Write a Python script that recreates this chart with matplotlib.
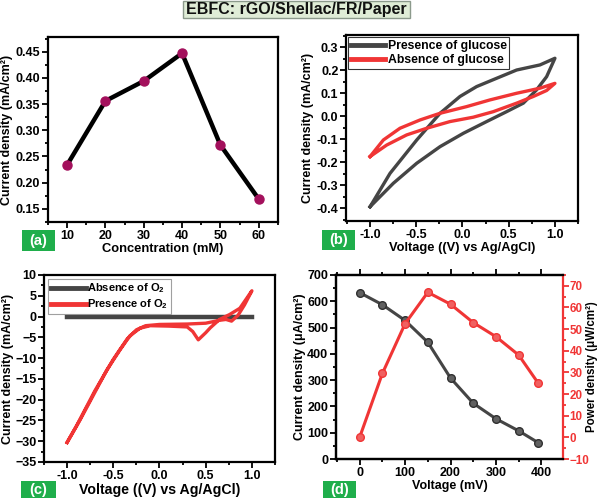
import matplotlib
matplotlib.use("Agg")
import matplotlib.pyplot as plt
from matplotlib.patches import Rectangle
from matplotlib.ticker import MultipleLocator, FormatStrFormatter
import numpy as np

plt.rcParams['font.family'] = ['Liberation Sans', 'DejaVu Sans']
plt.rcParams['font.weight'] = 'bold'
plt.rcParams['axes.labelweight'] = 'bold'
plt.rcParams['mathtext.fontset'] = 'custom'
plt.rcParams['mathtext.rm'] = 'Liberation Sans:bold'
plt.rcParams['mathtext.bf'] = 'Liberation Sans:bold'
plt.rcParams['mathtext.default'] = 'bf'

# ---- data (a) ----
conc = [10, 20, 30, 40, 50, 60]
conc_current = [0.234, 0.356, 0.394, 0.447, 0.272, 0.169]

# ---- data (b) ----
glu_fwd_v = [-1.0, -0.784, -0.495, -0.243, -0.027, 0.153, 0.369, 0.586, 0.838, 1.0]
glu_fwd_i = [-0.393, -0.248, -0.103, 0.013, 0.086, 0.129, 0.165, 0.201, 0.223, 0.252]
glu_rev_v = [1.0, 0.91, 0.80, 0.658, 0.477, 0.261, 0.009, -0.243, -0.495, -0.748, -1.0]
glu_rev_i = [0.252, 0.172, 0.114, 0.057, 0.020, -0.023, -0.074, -0.132, -0.204, -0.291, -0.393]
noglu_fwd_v = [-1.0, -0.856, -0.676, -0.459, -0.243, 0.045, 0.297, 0.586, 0.838, 1.0]
noglu_fwd_i = [-0.175, -0.103, -0.052, -0.016, 0.013, 0.042, 0.071, 0.100, 0.122, 0.143]
noglu_rev_v = [1.0, 0.91, 0.766, 0.586, 0.333, 0.117, -0.135, -0.387, -0.604, -0.82, -1.0]
noglu_rev_i = [0.143, 0.112, 0.086, 0.057, 0.020, -0.004, -0.023, -0.052, -0.081, -0.125, -0.175]

# ---- data (c) ----
noo2_v = [-1.0, 1.0]
noo2_i = [0.0, 0.0]
o2_fwd_v = [-1.0, -0.86, -0.715, -0.571, -0.427, -0.319, -0.21, -0.1, 0.1, 0.3, 0.36, 0.42, 0.5, 0.55, 0.65, 0.76, 0.87, 1.0]
o2_fwd_i = [-30.3, -24.9, -18.9, -12.9, -8.0, -4.6, -2.8, -2.2, -2.3, -2.5, -3.6, -5.6, -3.9, -2.7, -0.7, 0.5, 2.0, 6.2]
o2_rev_v = [1.0, 0.92, 0.85, 0.78, 0.72, 0.65, 0.5, 0.3, 0.0, -0.15, -0.25, -0.35, -0.5, -0.7, -0.9, -1.0]
o2_rev_i = [6.2, 2.8, 0.3, -1.1, -0.7, -0.9, -1.6, -1.8, -1.9, -2.2, -3.2, -5.4, -10.3, -17.9, -26.4, -30.3]

# ---- data (d) ----
volt_mv = [0, 50, 100, 150, 200, 250, 300, 350, 393]
cur_dens = [633, 587, 527, 444, 308, 212, 153, 107, 62]
pow_dens = [0, 29.5, 52.5, 67, 61.5, 53, 46.5, 38, 25]

GRAY = '#454545'
RED = '#f03535'
TICK_FS = 9
LAB_FS = 9

fig = plt.figure(figsize=(6.0, 4.98), dpi=100)

def style(ax, top_ticks=False):
    for s in ax.spines.values():
        s.set_linewidth(1.6)
    ax.tick_params(which='both', direction='out', width=1.3, labelsize=TICK_FS, pad=1.5)
    ax.tick_params(which='major', length=4)
    ax.tick_params(which='minor', length=2.5)
    if top_ticks:
        ax.tick_params(which='both', top=True)
    for lab in ax.get_xticklabels() + ax.get_yticklabels():
        lab.set_fontweight('bold')

# (a)
axa = fig.add_axes([0.080, 0.5542, 0.383, 0.3715])
axa.plot(conc, conc_current, color='black', lw=3.2, zorder=2)
axa.plot(conc, conc_current, 'o', color='#a3105c', ms=6.5, zorder=3)
axa.set_xlim(5, 65)
axa.set_ylim(0.125, 0.478)
axa.xaxis.set_major_locator(MultipleLocator(10))
axa.xaxis.set_minor_locator(MultipleLocator(5))
axa.yaxis.set_major_locator(MultipleLocator(0.05))
axa.yaxis.set_minor_locator(MultipleLocator(0.025))
axa.yaxis.set_major_formatter(FormatStrFormatter('%.2f'))
axa.set_xlabel('Concentration (mM)', fontsize=LAB_FS + 0.3, labelpad=1)
axa.set_ylabel('Current density (mA/cm²)', fontsize=LAB_FS, labelpad=2)
style(axa)

# (b)
axb = fig.add_axes([0.5767, 0.5562, 0.3867, 0.3735])
axb.plot(glu_fwd_v + glu_rev_v[1:], glu_fwd_i + glu_rev_i[1:], color=GRAY, lw=2.4, label='Presence of glucose')
axb.plot(noglu_fwd_v + noglu_rev_v[1:], noglu_fwd_i + noglu_rev_i[1:], color=RED, lw=2.4, label='Absence of glucose')
axb.set_xlim(-1.26, 1.25)
axb.set_ylim(-0.455, 0.353)
axb.xaxis.set_major_locator(MultipleLocator(0.5))
axb.xaxis.set_minor_locator(MultipleLocator(0.25))
axb.yaxis.set_major_locator(MultipleLocator(0.1))
axb.yaxis.set_minor_locator(MultipleLocator(0.05))
axb.xaxis.set_major_formatter(FormatStrFormatter('%.1f'))
axb.yaxis.set_major_formatter(FormatStrFormatter('%.1f'))
axb.set_xlabel('Voltage ((V) vs Ag/AgCl)', fontsize=LAB_FS + 0.3, labelpad=1)
axb.set_ylabel('Current density (mA/cm²)', fontsize=LAB_FS, labelpad=2)
leg = axb.legend(loc='upper left', fontsize=8.8, frameon=True, handlelength=2.8,
                 handletextpad=0.2, borderaxespad=0.2, borderpad=0.2, labelspacing=0.2,
                 fancybox=False, edgecolor='black')
leg.get_frame().set_linewidth(0.8)
for t in leg.get_texts():
    t.set_fontweight('bold')
for l in leg.get_lines():
    l.set_linewidth(3.5)
style(axb)

# (c)
axc = fig.add_axes([0.0733, 0.0723, 0.385, 0.3755])
axc.plot(noo2_v, noo2_i, color=GRAY, lw=3.2, label=r'Absence of O$_\mathbf{2}$', zorder=2)
axc.plot(o2_fwd_v + o2_rev_v[1:], o2_fwd_i + o2_rev_i[1:], color=RED, lw=2.4, label=r'Presence of O$_\mathbf{2}$', zorder=3)
axc.set_xlim(-1.25, 1.25)
axc.set_ylim(-35, 10)
axc.xaxis.set_major_locator(MultipleLocator(0.5))
axc.xaxis.set_minor_locator(MultipleLocator(0.25))
axc.yaxis.set_major_locator(MultipleLocator(5))
axc.yaxis.set_minor_locator(MultipleLocator(2.5))
axc.xaxis.set_major_formatter(FormatStrFormatter('%.1f'))
axc.set_xlabel('Voltage ((V) vs Ag/AgCl)', fontsize=LAB_FS + 1.2, labelpad=1)
axc.set_ylabel('Current density (mA/cm²)', fontsize=LAB_FS, labelpad=1)
leg = axc.legend(loc='upper left', fontsize=8, frameon=True, handlelength=3.2,
                 handletextpad=0.1, borderaxespad=0.35, borderpad=0.25, labelspacing=0.2,
                 fancybox=False, edgecolor='#888888')
leg.get_frame().set_linewidth(0.8)
for l in leg.get_lines():
    l.set_linewidth(3.5)
style(axc)

# (d)
axd = fig.add_axes([0.56, 0.0783, 0.378, 0.3695])
axd.plot(volt_mv, cur_dens, '-o', color=GRAY, lw=2.2, ms=5.5, mfc='#606060', mec='#303030', mew=1.0)
axd.set_xlim(-52, 447)
axd.set_ylim(0, 700)
axd.xaxis.set_major_locator(MultipleLocator(100))
axd.xaxis.set_minor_locator(MultipleLocator(50))
axd.yaxis.set_major_locator(MultipleLocator(100))
axd.yaxis.set_minor_locator(MultipleLocator(50))
axd.set_xlabel('Voltage (mV)', fontsize=LAB_FS, labelpad=1)
axd.set_ylabel('Current density (μA/cm²)', fontsize=LAB_FS, labelpad=1)
style(axd, top_ticks=True)
axd.spines['right'].set_visible(False)
axr = axd.twinx()
axr.plot(volt_mv, pow_dens, '-o', color=RED, lw=2.2, ms=5.5, mfc='#f06060', mec=RED, mew=1.0)
axr.set_ylim(-10, 75)
axr.yaxis.set_major_locator(MultipleLocator(10))
axr.yaxis.set_minor_locator(MultipleLocator(5))
axr.set_ylabel('Power density (μW/cm²)', fontsize=8.3)
axr.yaxis.set_label_coords(1.103, 0.5)
for s in axr.spines.values():
    s.set_linewidth(1.6)
axr.spines['right'].set_color(RED)
axr.tick_params(axis='y', which='both', direction='out', width=1.3, colors=RED, labelsize=8.4, pad=1)
axr.tick_params(axis='y', which='major', length=4)
axr.tick_params(axis='y', which='minor', length=2.5)
for lab in axr.get_yticklabels():
    lab.set_fontweight('bold')
    lab.set_color(RED)

# panel label boxes
GREEN = '#1fae4b'
def panel_label(x0, y0, x1, y1, txt):
    fx0, fx1 = x0 / 600, x1 / 600
    fy0, fy1 = 1 - y1 / 498, 1 - y0 / 498
    fig.patches.append(Rectangle((fx0, fy0), fx1 - fx0, fy1 - fy0, transform=fig.transFigure,
                                 facecolor=GREEN, edgecolor='none'))
    fig.text((fx0 + fx1) / 2, (fy0 + fy1) / 2, txt, color='white', fontsize=10.5,
             fontweight='bold', ha='center', va='center')

panel_label(22, 230, 55, 251, '(a)')
panel_label(322, 230, 355, 250, '(b)')
panel_label(21, 481, 56, 498, '(c)')
panel_label(323, 481, 356, 498, '(d)')

# title box
tx0, tx1, ty0, ty1 = 183 / 600, 410 / 600, 1 - 18 / 498, 1 - 1 / 498
fig.patches.append(Rectangle((tx0, ty0), tx1 - tx0, ty1 - ty0, transform=fig.transFigure,
                             facecolor='#dfecd6', edgecolor='#8c9a8c', lw=1.0))
fig.text((tx0 + tx1) / 2, (ty0 + ty1) / 2, 'EBFC: rGO/Shellac/FR/Paper', fontsize=11.5,
         fontweight='bold', ha='center', va='center', color='#111111')

fig.savefig('out.png', dpi=100)
